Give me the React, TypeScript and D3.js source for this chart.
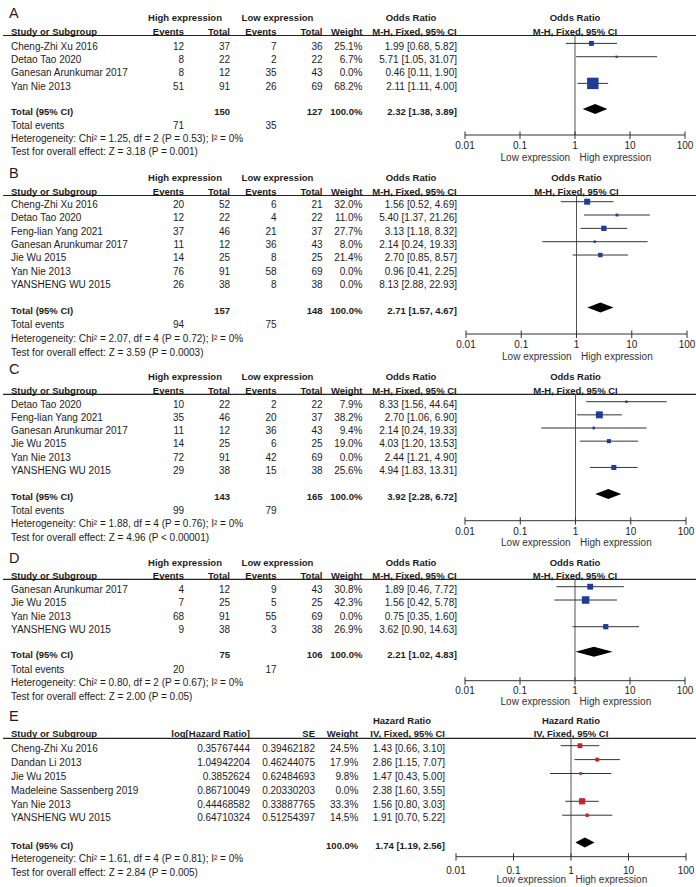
import React from "react";
import * as d3 from "d3";

// ---------- Shared ----------
const tickValues = [0.01, 0.1, 1, 10, 100];
const tickLabels = ["0.01", "0.1", "1", "10", "100"];
const favoursLeft = "Low expression";
const favoursRight = "High expression";
const totalWeight = 100.0;

// ---------- Panel A ----------
const studiesA = ["Cheng-Zhi Xu 2016", "Detao Tao 2020", "Ganesan Arunkumar 2017", "Yan Nie 2013"];
const highEventsA = [12, 8, 8, 51];
const highTotalA = [37, 22, 12, 91];
const lowEventsA = [7, 2, 35, 26];
const lowTotalA = [36, 22, 43, 69];
const weightA = [25.1, 6.7, 0.0, 68.2];
const orA = [1.99, 5.71, 0.46, 2.11];
const lowerA = [0.68, 1.05, 0.11, 1.11];
const upperA = [5.82, 31.07, 1.9, 4.0];
const totalsA = [150, 127];
const totalEventsA = [71, 35];
const pooledA = [2.32, 1.38, 3.89];
const hetA = "Heterogeneity: Chi\u00B2 = 1.25, df = 2 (P = 0.53); I\u00B2 = 0%";
const testA = "Test for overall effect: Z = 3.18 (P = 0.001)";

// ---------- Panel B ----------
const studiesB = ["Cheng-Zhi Xu 2016", "Detao Tao 2020", "Feng-lian Yang 2021", "Ganesan Arunkumar 2017", "Jie Wu 2015", "Yan Nie 2013", "YANSHENG WU 2015"];
const highEventsB = [20, 12, 37, 11, 14, 76, 26];
const highTotalB = [52, 22, 46, 12, 25, 91, 38];
const lowEventsB = [6, 4, 21, 36, 8, 58, 8];
const lowTotalB = [21, 22, 37, 43, 25, 69, 38];
const weightB = [32.0, 11.0, 27.7, 8.0, 21.4, 0.0, 0.0];
const orB = [1.56, 5.4, 3.13, 2.14, 2.7, 0.96, 8.13];
const lowerB = [0.52, 1.37, 1.18, 0.24, 0.85, 0.41, 2.88];
const upperB = [4.69, 21.26, 8.32, 19.33, 8.57, 2.25, 22.93];
const totalsB = [157, 148];
const totalEventsB = [94, 75];
const pooledB = [2.71, 1.57, 4.67];
const hetB = "Heterogeneity: Chi\u00B2 = 2.07, df = 4 (P = 0.72); I\u00B2 = 0%";
const testB = "Test for overall effect: Z = 3.59 (P = 0.0003)";

// ---------- Panel C ----------
const studiesC = ["Detao Tao 2020", "Feng-lian Yang 2021", "Ganesan Arunkumar 2017", "Jie Wu 2015", "Yan Nie 2013", "YANSHENG WU 2015"];
const highEventsC = [10, 35, 11, 14, 72, 29];
const highTotalC = [22, 46, 12, 25, 91, 38];
const lowEventsC = [2, 20, 36, 6, 42, 15];
const lowTotalC = [22, 37, 43, 25, 69, 38];
const weightC = [7.9, 38.2, 9.4, 19.0, 0.0, 25.6];
const orC = [8.33, 2.7, 2.14, 4.03, 2.44, 4.94];
const lowerC = [1.56, 1.06, 0.24, 1.2, 1.21, 1.83];
const upperC = [44.64, 6.9, 19.33, 13.53, 4.9, 13.31];
const totalsC = [143, 165];
const totalEventsC = [99, 79];
const pooledC = [3.92, 2.28, 6.72];
const hetC = "Heterogeneity: Chi\u00B2 = 1.88, df = 4 (P = 0.76); I\u00B2 = 0%";
const testC = "Test for overall effect: Z = 4.96 (P < 0.00001)";

// ---------- Panel D ----------
const studiesD = ["Ganesan Arunkumar 2017", "Jie Wu 2015", "Yan Nie 2013", "YANSHENG WU 2015"];
const highEventsD = [4, 7, 68, 9];
const highTotalD = [12, 25, 91, 38];
const lowEventsD = [9, 5, 55, 3];
const lowTotalD = [43, 25, 69, 38];
const weightD = [30.8, 42.3, 0.0, 26.9];
const orD = [1.89, 1.56, 0.75, 3.62];
const lowerD = [0.46, 0.42, 0.35, 0.9];
const upperD = [7.72, 5.78, 1.6, 14.63];
const totalsD = [75, 106];
const totalEventsD = [20, 17];
const pooledD = [2.21, 1.02, 4.83];
const hetD = "Heterogeneity: Chi\u00B2 = 0.80, df = 2 (P = 0.67); I\u00B2 = 0%";
const testD = "Test for overall effect: Z = 2.00 (P = 0.05)";

// ---------- Panel E ----------
const studiesE = ["Cheng-Zhi Xu 2016", "Dandan Li 2013", "Jie Wu 2015", "Madeleine Sassenberg 2019", "Yan Nie 2013", "YANSHENG WU 2015"];
const logHrE = ["0.35767444", "1.04942204", "0.3852624", "0.86710049", "0.44468582", "0.64710324"];
const seE = ["0.39462182", "0.46244075", "0.62484693", "0.20330203", "0.33887765", "0.51254397"];
const weightE = [24.5, 17.9, 9.8, 0.0, 33.3, 14.5];
const hrE = [1.43, 2.86, 1.47, 2.38, 1.56, 1.91];
const lowerE = [0.66, 1.15, 0.43, 1.6, 0.8, 0.7];
const upperE = [3.1, 7.07, 5.0, 3.55, 3.03, 5.22];
const pooledE = [1.74, 1.19, 2.56];
const hetE = "Heterogeneity: Chi\u00B2 = 1.61, df = 4 (P = 0.81); I\u00B2 = 0%";
const testE = "Test for overall effect: Z = 2.84 (P = 0.005)";

// ---------- Styling / layout ----------
const FONT = "'Liberation Sans', Arial, Helvetica, sans-serif";
const TXT = "#1c1c1c";
const BLUE = "#1f3d97";
const RED = "#c0262c";

type Layout = {
  letter: number; h1: number; h2: number; line: number; row0: number; step: number;
  total: number; te: number; het: number; test: number; axis: number; ticks: number; lab: number;
  x0: number; x1: number;
};

const layoutA: Layout = { letter: 13, h1: 17.5, h2: 31.7, line: 35.5, row0: 46, step: 13.33, total: 111.7, te: 125.7, het: 138.7, test: 151.7, axis: 135, ticks: 145, lab: 157, x0: 465, x1: 685 };
const layoutB: Layout = { letter: 173, h1: 177.3, h2: 191.7, line: 195.5, row0: 204.3, step: 13.33, total: 310, te: 324, het: 338, test: 352, axis: 334, ticks: 344, lab: 356, x0: 466, x1: 687 };
const layoutC: Layout = { letter: 369, h1: 376.7, h2: 390, line: 394.3, row0: 404.3, step: 13.15, total: 496.7, te: 510, het: 523.3, test: 537, axis: 520.7, ticks: 531.5, lab: 542, x0: 465, x1: 686 };
const layoutD: Layout = { letter: 558, h1: 562.3, h2: 575.7, line: 579.3, row0: 589.3, step: 13.33, total: 654.3, te: 669.3, het: 682.7, test: 696, axis: 680.7, ticks: 690.5, lab: 701.7, x0: 465, x1: 685 };
const layoutE: Layout = { letter: 716, h1: 720, h2: 733.3, line: 738.3, row0: 748.3, step: 13.9, total: 845, te: 0, het: 858.3, test: 872.7, axis: 856.7, ticks: 870, lab: 879.3, x0: 456, x1: 686 };

const ciText = (e: number, l: number, h: number) => `${e.toFixed(2)} [${l.toFixed(2)}, ${h.toFixed(2)}]`;
const pct = (w: number) => `${w.toFixed(1)}%`;
const bl = (c: number) => c + 3.6; // baseline from visual centre

type Col = { x: number; values: string[] };

type PanelProps = {
  kind: "or" | "hr";
  letter: string;
  L: Layout;
  studies: string[];
  cols: Col[];
  h1: { text: string; x: number; anchor: "middle" | "end" | "start" }[];
  h2: { text: string; x: number; anchor: "middle" | "end" | "start" }[];
  totalCells: { text: string; x: number }[];
  eventCells: { text: string; x: number }[];
  weights: number[];
  est: number[]; lo: number[]; hi: number[];
  pooled: number[];
  het: string; test: string;
  color: string;
  plotTitle: string; plotMethod: string;
};

function T(props: any) {
  const { x, y, children, anchor = "start", bold = false, size = 10, fill = TXT } = props;
  return (
    <text x={x} y={y} textAnchor={anchor} fontFamily={FONT} fontSize={bold ? size - 0.5 : size} fontWeight={bold ? "bold" : "normal"} fill={fill}>
      {children}
    </text>
  );
}

function Panel(p: PanelProps) {
  const L = p.L;
  const x = d3.scaleLog().domain([0.01, 100]).range([L.x0, L.x1]);
  const side = d3.scaleLinear().domain([0, 100]).range([1.2, 16.2]);
  const rowC = (i: number) => L.row0 + i * L.step;
  const mk = (c: number) => c - 2.6;
  const x1 = x(1);
  const diamondY = mk(L.total);
  const dh = 5;
  const diamond = d3.line()([
    [x(p.pooled[1]), diamondY],
    [x(p.pooled[0]), diamondY - dh],
    [x(p.pooled[2]), diamondY],
    [x(p.pooled[0]), diamondY + dh],
  ]) + "Z";
  return (
    <g>
      <text x={9} y={L.letter + 5} fontFamily={FONT} fontSize={14.5} fill={TXT}>{p.letter}</text>
      {p.h1.map((h, i) => (
        <T key={"h1" + i} x={h.x} y={bl(L.h1)} anchor={h.anchor} bold>{h.text}</T>
      ))}
      {p.h2.map((h, i) => (
        <T key={"h2" + i} x={h.x} y={bl(L.h2)} anchor={h.anchor} bold>{h.text}</T>
      ))}
      <T x={x1} y={bl(L.h1)} anchor="middle" bold>{p.plotTitle}</T>
      <T x={x1} y={bl(L.h2)} anchor="middle" bold>{p.plotMethod}</T>
      <line x1={3} x2={696} y1={L.line} y2={L.line} stroke="#222" strokeWidth={1.2} />

      {p.studies.map((s, i) => (
        <g key={s}>
          <T x={11} y={bl(rowC(i))}>{s}</T>
          {p.cols.map((c, j) => (
            <T key={j} x={c.x} y={bl(rowC(i))} anchor="end">{c.values[i]}</T>
          ))}
        </g>
      ))}

      <T x={11} y={bl(L.total)} bold>Total (95% CI)</T>
      {p.totalCells.map((c, j) => (
        <T key={"tc" + j} x={c.x} y={bl(L.total)} anchor="end" bold>{c.text}</T>
      ))}
      {p.eventCells.length > 0 && <T x={11} y={bl(L.te)}>Total events</T>}
      {p.eventCells.map((c, j) => (
        <T key={"ec" + j} x={c.x} y={bl(L.te)} anchor="end">{c.text}</T>
      ))}
      <T x={11} y={bl(L.het)}>{p.het}</T>
      <T x={11} y={bl(L.test)}>{p.test}</T>

      {/* null line */}
      <line x1={x1} x2={x1} y1={L.line} y2={L.axis} stroke="#555" strokeWidth={1} />

      {/* study markers */}
      {p.studies.map((s, i) => {
        if (p.weights[i] <= 0) return null;
        const y = mk(rowC(i));
        const sz = side(p.weights[i]);
        return (
          <g key={"m" + s}>
            <line x1={x(p.lo[i])} x2={x(p.hi[i])} y1={y} y2={y} stroke="#333" strokeWidth={1} />
            <rect x={x(p.est[i]) - sz / 2} y={y - sz / 2} width={sz} height={sz} fill={p.color} />
          </g>
        );
      })}
      <path d={diamond} fill="#000" />

      {/* axis */}
      <line x1={L.x0} x2={L.x1} y1={L.axis} y2={L.axis} stroke="#333" strokeWidth={1} />
      {tickValues.map((t, i) => (
        <g key={"t" + t}>
          <line x1={x(t)} x2={x(t)} y1={L.axis - 3.5} y2={L.axis + 4} stroke="#333" strokeWidth={1} />
          <T x={x(t)} y={bl(L.ticks)} anchor="middle">{tickLabels[i]}</T>
        </g>
      ))}
      <T x={x1 - 5} y={bl(L.lab)} anchor="end" fill="#333">{favoursLeft}</T>
      <T x={x1 + 4.5} y={bl(L.lab)} anchor="start" fill="#333">{favoursRight}</T>
    </g>
  );
}

function orPanel(letter: string, L: Layout, studies: string[], he: number[], ht: number[], le: number[], lt: number[], w: number[], est: number[], lo: number[], hi: number[], totals: number[], tev: number[], pooled: number[], het: string, test: string) {
  const cols: Col[] = [
    { x: 184, values: he.map(String) },
    { x: 230, values: ht.map(String) },
    { x: 276.5, values: le.map(String) },
    { x: 322.5, values: lt.map(String) },
    { x: 362.5, values: w.map(pct) },
    { x: 457, values: est.map((e, i) => ciText(e, lo[i], hi[i])) },
  ];
  return (
    <Panel
      kind="or" letter={letter} L={L} studies={studies} cols={cols}
      h1={[
        { text: "High expression", x: 185, anchor: "middle" },
        { text: "Low expression", x: 277.5, anchor: "middle" },
        { text: "Odds Ratio", x: 411, anchor: "middle" },
      ]}
      h2={[
        { text: "Study or Subgroup", x: 11, anchor: "start" },
        { text: "Events", x: 184, anchor: "end" },
        { text: "Total", x: 230, anchor: "end" },
        { text: "Events", x: 276.5, anchor: "end" },
        { text: "Total", x: 322.5, anchor: "end" },
        { text: "Weight", x: 362.5, anchor: "end" },
        { text: "M-H, Fixed, 95% CI", x: 414.5, anchor: "middle" },
      ]}
      totalCells={[
        { text: String(totals[0]), x: 230 },
        { text: String(totals[1]), x: 322.5 },
        { text: pct(totalWeight), x: 362.5 },
        { text: ciText(pooled[0], pooled[1], pooled[2]), x: 457 },
      ]}
      eventCells={[
        { text: String(tev[0]), x: 184 },
        { text: String(tev[1]), x: 276.5 },
      ]}
      weights={w} est={est} lo={lo} hi={hi} pooled={pooled}
      het={het} test={test} color={BLUE}
      plotTitle="Odds Ratio" plotMethod="M-H, Fixed, 95% CI"
    />
  );
}

export default function App() {
  const colsE: Col[] = [
    { x: 250, values: logHrE },
    { x: 315, values: seE },
    { x: 358.3, values: weightE.map(pct) },
    { x: 445, values: hrE.map((e, i) => ciText(e, lowerE[i], upperE[i])) },
  ];
  return (
    <svg width={696} height={887} viewBox="0 0 696 887" style={{ position: "absolute", left: 0, top: 0, background: "#fff" }}>
      <rect x={0} y={0} width={696} height={887} fill="#fff" />
      {orPanel("A", layoutA, studiesA, highEventsA, highTotalA, lowEventsA, lowTotalA, weightA, orA, lowerA, upperA, totalsA, totalEventsA, pooledA, hetA, testA)}
      {orPanel("B", layoutB, studiesB, highEventsB, highTotalB, lowEventsB, lowTotalB, weightB, orB, lowerB, upperB, totalsB, totalEventsB, pooledB, hetB, testB)}
      {orPanel("C", layoutC, studiesC, highEventsC, highTotalC, lowEventsC, lowTotalC, weightC, orC, lowerC, upperC, totalsC, totalEventsC, pooledC, hetC, testC)}
      {orPanel("D", layoutD, studiesD, highEventsD, highTotalD, lowEventsD, lowTotalD, weightD, orD, lowerD, upperD, totalsD, totalEventsD, pooledD, hetD, testD)}
      <Panel
        kind="hr" letter="E" L={layoutE} studies={studiesE} cols={colsE}
        h1={[{ text: "Hazard Ratio", x: 402, anchor: "middle" }]}
        h2={[
          { text: "Study or Subgroup", x: 11, anchor: "start" },
          { text: "log[Hazard Ratio]", x: 250, anchor: "end" },
          { text: "SE", x: 315, anchor: "end" },
          { text: "Weight", x: 358.3, anchor: "end" },
          { text: "IV, Fixed, 95% CI", x: 445, anchor: "end" },
        ]}
        totalCells={[
          { text: pct(totalWeight), x: 358.3 },
          { text: ciText(pooledE[0], pooledE[1], pooledE[2]), x: 445 },
        ]}
        eventCells={[]}
        weights={weightE} est={hrE} lo={lowerE} hi={upperE} pooled={pooledE}
        het={hetE} test={testE} color={RED}
        plotTitle="Hazard Ratio" plotMethod="IV, Fixed, 95% CI"
      />
    </svg>
  );
}
